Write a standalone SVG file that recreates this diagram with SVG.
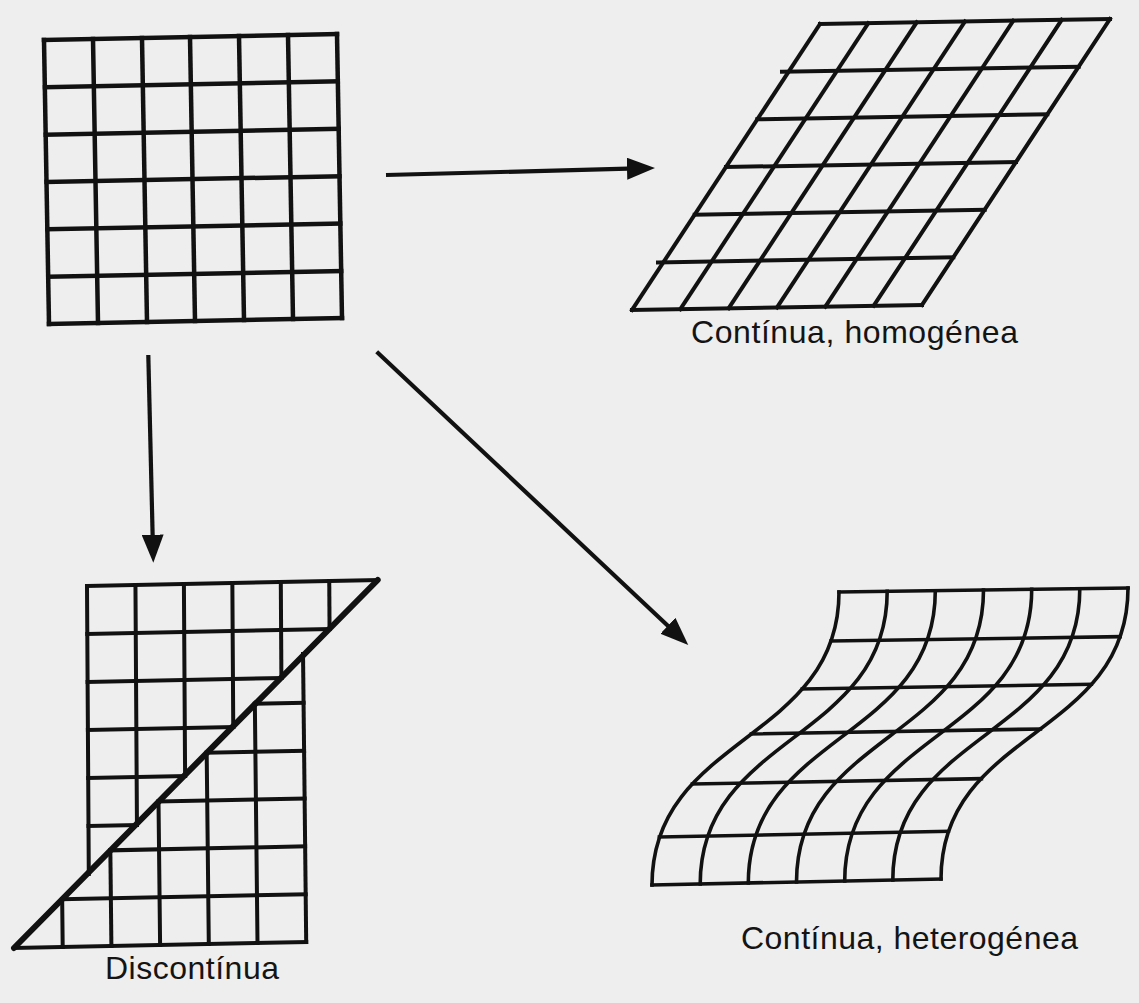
<svg xmlns="http://www.w3.org/2000/svg" width="1139" height="1003" viewBox="0 0 1139 1003">
<style>
.grid{stroke:#111111;fill:none;stroke-linecap:square;stroke-linejoin:miter}
.sq{stroke-width:4.5}
.par{stroke-width:4}
.dis{stroke-width:4}
.cut{stroke:#111111;stroke-width:6;stroke-linecap:round;fill:none}
.het{stroke-width:3.6}
.arrow{stroke:#111111;stroke-width:4.2;fill:none;marker-end:url(#ah)}
.lbl{font-family:"Liberation Sans",Arial,Helvetica,sans-serif;font-size:32px;fill:#141414}
</style>
<defs>
<marker id="ah" viewBox="0 0 28 22" refX="1" refY="11" markerWidth="28" markerHeight="22" markerUnits="userSpaceOnUse" orient="auto">
<path d="M0,0 L28,11 L0,22 Z" fill="#111111"/>
</marker>
</defs>
<rect x="0" y="0" width="1139" height="1003" fill="#eeeeee"/>

<g id="original-grid" class="grid sq">
<line x1="44" y1="40" x2="49" y2="324"/>
<line x1="93" y1="39" x2="98" y2="323"/>
<line x1="142" y1="38" x2="147" y2="322"/>
<line x1="190" y1="37" x2="195" y2="321"/>
<line x1="239" y1="36" x2="244" y2="320"/>
<line x1="288" y1="35" x2="293" y2="319"/>
<line x1="337" y1="34" x2="342" y2="318"/>
<line x1="44" y1="40" x2="337" y2="34"/>
<line x1="45" y1="87.3" x2="337.8" y2="81.4"/>
<line x1="45.8" y1="134.7" x2="338.7" y2="128.8"/>
<line x1="46.6" y1="182" x2="339.5" y2="176.2"/>
<line x1="47.5" y1="229.3" x2="340.3" y2="223.6"/>
<line x1="48.4" y1="276.7" x2="341.2" y2="271"/>
<line x1="49" y1="324" x2="342" y2="318"/>
</g>

<g id="homogeneous">
<g class="grid par">
<line x1="820" y1="24" x2="632" y2="310"/>
<line x1="868.3" y1="23.2" x2="680.3" y2="309.2"/>
<line x1="916.7" y1="22.3" x2="728.7" y2="308.3"/>
<line x1="965" y1="21.5" x2="777" y2="307.5"/>
<line x1="1013.3" y1="20.7" x2="825.3" y2="306.7"/>
<line x1="1061.7" y1="19.8" x2="873.7" y2="305.8"/>
<line x1="1110" y1="19" x2="922" y2="305"/>
<line x1="820" y1="24" x2="1110" y2="19"/>
<line x1="782" y1="71.8" x2="1078.7" y2="66.7"/>
<line x1="757.3" y1="119.3" x2="1047.3" y2="114.3"/>
<line x1="726" y1="167" x2="1016" y2="162"/>
<line x1="694.7" y1="214.7" x2="984.7" y2="209.7"/>
<line x1="658" y1="262.4" x2="953.3" y2="257.3"/>
<line x1="632" y1="310" x2="922" y2="305"/>
</g>
<text class="lbl" x="691" y="343" textLength="327" lengthAdjust="spacing">Contínua, homogénea</text>
</g>

<g id="discontinuous">
<g class="grid dis">
<line x1="87" y1="586" x2="377.7" y2="580"/>
<line x1="87.3" y1="634" x2="329.55" y2="629"/>
<line x1="87.6" y1="682" x2="281.4" y2="678"/>
<line x1="87.9" y1="730" x2="233.25" y2="727"/>
<line x1="88.2" y1="778" x2="185.1" y2="776"/>
<line x1="88.5" y1="826" x2="136.95" y2="825"/>
<line x1="87" y1="586" x2="88.8" y2="874"/>
<line x1="135.45" y1="585" x2="136.95" y2="825"/>
<line x1="183.9" y1="584" x2="185.1" y2="776"/>
<line x1="232.35" y1="583" x2="233.25" y2="727"/>
<line x1="280.8" y1="582" x2="281.4" y2="678"/>
<line x1="329.25" y1="581" x2="329.55" y2="629"/>
<line x1="14" y1="948" x2="306.2" y2="942"/>
<line x1="62.17" y1="899.17" x2="305.67" y2="894.17"/>
<line x1="110.34" y1="850.34" x2="305.14" y2="846.34"/>
<line x1="158.51" y1="801.51" x2="304.61" y2="798.51"/>
<line x1="206.68" y1="752.68" x2="304.08" y2="750.68"/>
<line x1="254.85" y1="703.85" x2="303.55" y2="702.85"/>
<line x1="62.7" y1="947" x2="62.17" y2="899.17"/>
<line x1="111.4" y1="946" x2="110.34" y2="850.34"/>
<line x1="160.1" y1="945" x2="158.51" y2="801.51"/>
<line x1="208.8" y1="944" x2="206.68" y2="752.68"/>
<line x1="257.5" y1="943" x2="254.85" y2="703.85"/>
<line x1="306.2" y1="942" x2="303.02" y2="654.02"/>
</g>
<line class="cut" x1="377.7" y1="580" x2="14" y2="948"/>
<text class="lbl" x="105" y="979" textLength="174" lengthAdjust="spacing">Discontínua</text>
</g>

<g id="heterogeneous">
<g class="grid het">
<path d="M839,592 C839,742 652,735 652,885"/>
<path d="M887.2,591.3 C887.2,741.3 700.2,734 700.2,884"/>
<path d="M935.3,590.7 C935.3,740.7 748.3,733 748.3,883"/>
<path d="M983.5,590 C983.5,740 796.5,732 796.5,882"/>
<path d="M1031.7,589.3 C1031.7,739.3 844.7,731 844.7,881"/>
<path d="M1079.8,588.7 C1079.8,738.7 892.8,730 892.8,880"/>
<path d="M1128,588 C1128,738 941,729 941,879"/>
<line x1="839" y1="592" x2="1128" y2="588"/>
<line x1="831.1" y1="641" x2="1120.1" y2="636.7"/>
<line x1="802.3" y1="689" x2="1091.3" y2="684.3"/>
<line x1="751.4" y1="734" x2="1040.4" y2="729"/>
<line x1="692.4" y1="784" x2="981.4" y2="778.7"/>
<line x1="659.4" y1="837" x2="948.4" y2="831.3"/>
<line x1="652" y1="885" x2="941" y2="879"/>
</g>
<text class="lbl" x="741" y="949" textLength="337" lengthAdjust="spacing">Contínua, heterogénea</text>
</g>

<g id="connectors">
<line class="arrow" x1="386" y1="175" x2="628" y2="168.7"/>
<line class="arrow" x1="148.3" y1="355" x2="152.65" y2="535.7"/>
<line class="arrow" x1="376.7" y1="351.7" x2="668.6" y2="626.5"/>
</g>
</svg>
